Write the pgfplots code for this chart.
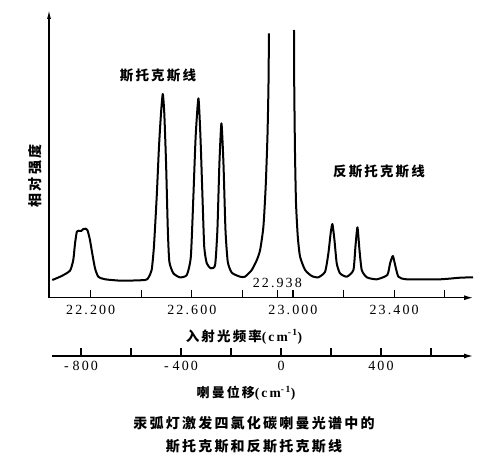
\documentclass[border=0pt]{standalone}
\usepackage{fontspec}
\usepackage{pgfplots}
\pgfplotsset{compat=1.18}
\usetikzlibrary{arrows.meta}
\setmainfont{Liberation Serif}
\newfontfamily\numfont[LetterSpace=15]{Liberation Serif}
\newfontfamily\cjk[LetterSpace=16]{Noto Sans CJK SC}
\newcommand\cmu{{\numfont\fontsize{13.5}{13.5}\selectfont(c\,m\textsuperscript{-1})}}
\begin{document}
\begin{tikzpicture}
\path[use as bounding box] (-49pt,-163.3pt) rectangle (451pt,297.7pt);
\begin{axis}[
  at={(0pt,0pt)}, anchor=south west, scale only axis,
  width=424pt, height=287.7pt,
  xmin=22035, xmax=23712, ymin=0, ymax=287.7,
  axis lines=left,
  scaled x ticks=false,
  axis line style={line width=1.2pt},
  x axis line style={-{Latex[length=9pt,width=5pt]}},
  y axis line style={-{Latex[length=9pt,width=4pt]}},
  ytick=\empty,
  xtick={22200,22400,22600,22800,23000,23200,23400,23600},
  xticklabels={22.200,,22.600,,23.000,,23.400,},
  tick align=inside,
  major tick length=8pt,
  tick style={line width=1.1pt, black},
  xticklabel style={font=\numfont\fontsize{14}{14}\selectfont, yshift=-4pt},
  extra x ticks={22938},
  extra x tick labels={22.938},
  extra x tick style={xticklabel style={anchor=south, yshift=10pt}},
  clip=false,
]
\addplot[black, line width=2pt, line join=round, smooth, tension=0.35] coordinates {
(22048,17.7)(22085,21.7)(22118,27)(22131,37.7)(22138,54.4)(22145,66)(22151,67)(22162,66.7)(22171,68.7)(22180,69)(22188,67)(22197,57.7)(22206,44.4)(22217,29.4)(22230,21)(22257,18.4)(22323,17)(22415,17.7)(22428,20)(22441,27.7)(22450,51)(22461,101)(22470,151)(22478,184.4)(22485,203.7)(22491,184.4)(22498,134.4)(22505,67.7)(22511,36)(22527,24.4)(22553,20.4)(22580,22.7)(22596,41)(22606,101)(22615,161)(22626,199.4)(22634,161)(22642,101)(22649,51)(22659,34.4)(22675,29.4)(22692,32.7)(22701,67.7)(22709,134.4)(22717,174.4)(22725,134.4)(22733,67.7)(22742,36)(22758,25)(22791,21)(22810,21)(22837,27.7)(22857,37.7)(22870,47.7)(22883,71)(22892,111)(22899,161)(22903,211)(22905,264.4)
};
\addplot[black, line width=2pt, line join=round, smooth, tension=0.35] coordinates {
(23004,267.7)(23005,211)(23008,144.4)(23012,94.4)(23019,61)(23028,41)(23048,27.7)(23074,21.7)(23100,20.4)(23127,26)(23140,44.4)(23149,64.4)(23156,73.7)(23164,57.7)(23173,34.4)(23186,24.4)(23213,21)(23239,27.7)(23247,51)(23255,70.4)(23263,47.7)(23272,27.7)(23292,20.4)(23331,18.4)(23373,22.7)(23384,34.4)(23395,41.7)(23404,32.7)(23417,21)(23450,18.4)(23582,18.4)(23661,20)(23712,20.4)
};
\end{axis}
\begin{axis}[
  at={(3pt,-58.3pt)}, anchor=south west, scale only axis,
  width=421pt, height=10pt,
  xmin=-916, xmax=768, ymin=0, ymax=1,
  axis x line=bottom, axis y line=none,
  scaled x ticks=false,
  axis line style={line width=1.2pt},
  x axis line style={-{Latex[length=9pt,width=5pt]}},
  xtick={-800,-600,-400,-200,0,200,400,600},
  xticklabels={-\hspace{4pt}800,,-\hspace{4pt}400,,0,,400,},
  tick align=inside,
  major tick length=8pt,
  tick style={line width=1.1pt, black},
  xticklabel style={font=\numfont\fontsize{14}{14}\selectfont, yshift=-2pt},
]
\end{axis}
\node[font=\cjk\bfseries\fontsize{13.5}{13.5}\selectfont] at (109pt,222.7pt) {斯托克斯线};
\node[font=\cjk\bfseries\fontsize{13.5}{13.5}\selectfont] at (330pt,126pt) {反斯托克斯线};
\node[font=\cjk\bfseries\fontsize{14}{14}\selectfont, rotate=90] at (-14pt,121.7pt) {相对强度};
\node[font=\cjk\bfseries\fontsize{13.5}{13.5}\selectfont] at (195pt,-39pt) {入射光频率\cmu};
\node[font=\cjk\bfseries\fontsize{13}{13}\selectfont] at (197pt,-95.3pt) {喇曼位移\cmu};
\node[font=\cjk\bfseries\fontsize{14}{14}\selectfont, align=center] at (205pt,-137pt) {汞弧灯激发四氯化碳喇曼光谱中的\\[9pt]斯托克斯和反斯托克斯线};
\end{tikzpicture}
\end{document}
